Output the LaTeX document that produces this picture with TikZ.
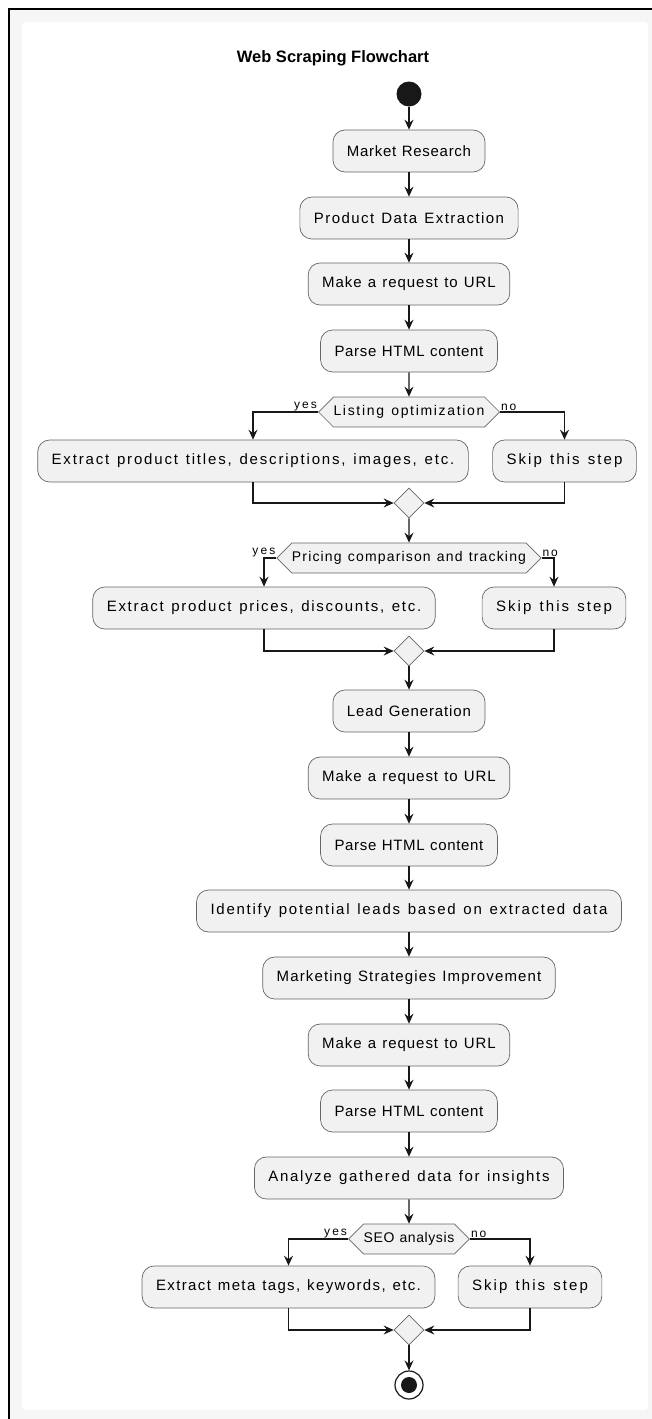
\documentclass[tikz,border=0pt]{standalone}
\usepackage{fontspec}
\setmainfont{Liberation Sans}
\usetikzlibrary{arrows.meta,shapes.geometric,shapes.symbols}
\definecolor{boxfill}{HTML}{F1F1F1}
\definecolor{inkgray}{HTML}{181818}
\definecolor{rimgray}{HTML}{F6F6F6}

% text spread to a fixed pitch per character (commas and full stops narrower)
\ExplSyntaxOn
\int_new:N \l_wsf_punct_int
\cs_new_protected:Npn \wsf_spread:nn #1#2
  {
    \int_zero:N \l_wsf_punct_int
    \str_map_inline:nn {#2}
      {
        \str_if_eq:nnT {##1} {,} { \int_incr:N \l_wsf_punct_int }
        \str_if_eq:nnT {##1} {.} { \int_incr:N \l_wsf_punct_int }
      }
    \hbox_to_wd:nn { #1 * \str_count:n {#2} - 2.7pt * \l_wsf_punct_int }
      { \str_map_inline:nn {#2} { ##1 \hfil } \unskip }
  }
\cs_generate_variant:Nn \wsf_spread:nn { ne }
\NewDocumentCommand \spaced { m m } { \wsf_spread:ne {#1} {#2} }
\ExplSyntaxOff

\begin{document}
\begin{tikzpicture}[x=1pt,y=-1pt,
  action/.style={draw=black!60,line width=.7pt,fill=boxfill,rounded corners=12pt,
    minimum height=42pt,inner xsep=14pt,font=\fontsize{15}{17}\selectfont},
  choice/.style={signal,signal to=east and west,draw=black!60,line width=.7pt,fill=boxfill,
    minimum height=30pt,inner xsep=0pt,inner ysep=0pt,font=\fontsize{14}{16}\selectfont},
  merge/.style={diamond,draw=black!60,line width=.7pt,fill=boxfill,minimum size=30pt,inner sep=0pt},
  flow/.style={line width=1.3pt,draw=inkgray,-{Stealth[length=10pt,width=9pt,inset=3.5pt]}},
  answer/.style={font=\fontsize{12}{13}\selectfont,inner sep=1pt}]
  % frame
  \useasboundingbox (0,0) rectangle (652,1419);
  \fill[white] (0,0) rectangle (652,1419);
  \fill[rimgray] (9,9) rectangle (652,1419);
  \fill[white,rounded corners=4pt] (22,22) rectangle (648,1410);
  \draw[black,line width=2.8pt] (9,1419) -- (9,9) -- (652,9);

  \node[font=\bfseries\fontsize{16.5}{18}\selectfont] (title) at (333,58) {Web Scraping Flowchart};
  \node[circle,fill=inkgray,minimum size=25pt,inner sep=0pt] (start) at (409,94) {};

  % main column
  \foreach \n/\y/\t in {mr/151/Market Research, pde/218/Product Data Extraction,
      req1/284/Make a request to URL, parse1/351/Parse HTML content,
      lead/711/Lead Generation, req2/778/Make a request to URL, parse2/845/Parse HTML content,
      leads/911/Identify potential leads based on extracted data,
      msi/978/Marketing Strategies Improvement, req3/1045/Make a request to URL,
      parse3/1111/Parse HTML content, insight/1178/Analyze gathered data for insights} {
    \node[action] (\n) at (409,\y) {\spaced{8.27pt}{\t}};
  }

  % decisions
  \node[choice] (opt) at (409,412) {\spaced{7.55pt}{Listing optimization}};
  \node[choice] (price) at (409,558) {\spaced{7.55pt}{Pricing comparison and tracking}};
  \node[choice] (seo) at (409,1239) {\spaced{7.55pt}{SEO analysis}};

  % branches
  \node[action] (titles) at (253,461) {\spaced{8.27pt}{Extract product titles, descriptions, images, etc.}};
  \node[action] (skip1) at (564.5,461) {\spaced{8.27pt}{Skip this step}};
  \node[action] (prices) at (264,608) {\spaced{8.27pt}{Extract product prices, discounts, etc.}};
  \node[action] (skip2) at (554,608) {\spaced{8.27pt}{Skip this step}};
  \node[action] (meta) at (288.5,1287) {\spaced{8.27pt}{Extract meta tags, keywords, etc.}};
  \node[action] (skip3) at (530,1287) {\spaced{8.27pt}{Skip this step}};

  \node[merge] (m1) at (409,503) {};
  \node[merge] (m2) at (409,651) {};
  \node[merge] (m3) at (409,1330) {};

  \node[circle,draw=inkgray,line width=1.2pt,fill=white,minimum size=28pt,inner sep=0pt] (stop) at (409,1385) {};
  \fill[inkgray] (stop) circle (8pt);

  \foreach \a/\b in {start/mr,mr/pde,pde/req1,req1/parse1,parse1/opt,m1/price,m2/lead,
      lead/req2,req2/parse2,parse2/leads,leads/msi,msi/req3,req3/parse3,parse3/insight,
      insight/seo,m3/stop} {
    \draw[flow] (\a) -- (\b);
  }
  \foreach \d/\l/\r/\m in {opt/titles/skip1/m1,price/prices/skip2/m2,seo/meta/skip3/m3} {
    \draw[flow] (\d.west) -| (\l);
    \draw[flow] (\d.east) -| (\r);
    \draw[flow] (\l) |- (\m);
    \draw[flow] (\r) |- (\m);
    \node[answer,anchor=south east] at (\d.west) {\spaced{7.6pt}{yes}};
    \node[answer,anchor=south west] at (\d.east) {\spaced{7.6pt}{no}};
  }
\end{tikzpicture}
\end{document}
